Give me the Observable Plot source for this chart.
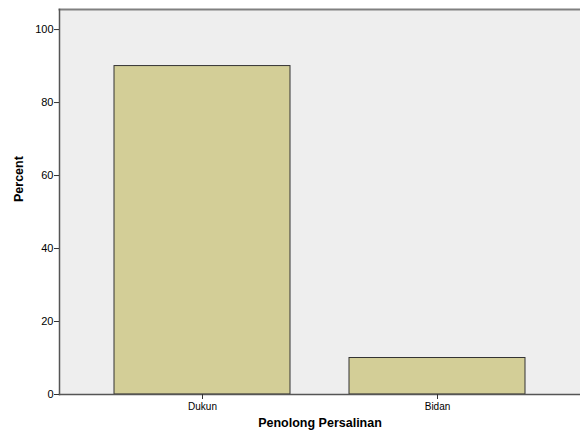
<!DOCTYPE html>
<html><head><meta charset="utf-8">
<script src="https://cdn.jsdelivr.net/npm/d3@7"></script>
<script src="https://cdn.jsdelivr.net/npm/@observablehq/plot@0.6"></script>
<style>body{margin:0;background:#fff;font-family:"Liberation Sans",Arial,sans-serif}</style>
</head><body><div id="chart"></div>
<script>
const categories = ["Dukun", "Bidan"];
const percents = [90, 10];
const yTicks = [0, 20, 40, 60, 80, 100];
const data = categories.map((c, i) => ({cat: c, pct: percents[i]}));

const chart = Plot.plot({
  width: 580, height: 436,
  marginLeft: 59, marginRight: 0, marginTop: 9, marginBottom: 42,
  style: {fontFamily: "Liberation Sans, Arial, sans-serif", fontSize: "11px", color: "#000", background: "#fff"},
  x: {domain: categories, paddingInner: 0.25, paddingOuter: 0.233, label: null},
  y: {domain: [0, 105.5], label: null},
  marks: [
    Plot.frame({fill: "#eeeeee", stroke: null}),
    Plot.barY(data, {x: "cat", y: "pct", fill: "#d3ce97", stroke: "#333", strokeWidth: 1}),
    Plot.frame({anchor: "top", stroke: "#808080", strokeWidth: 2}),
    Plot.frame({anchor: "left", stroke: "#555", strokeWidth: 1.5}),
    Plot.frame({anchor: "bottom", stroke: "#555", strokeWidth: 1.5}),
    Plot.axisY({ticks: yTicks, tickSize: 5, tickPadding: 1, fontSize: 11, stroke: "#333", label: null}),
    Plot.axisX({tickSize: 5, tickPadding: 3, fontSize: 10, stroke: "#333", label: null}),
    Plot.text(["Percent"], {frameAnchor: "left", dx: -41, rotate: -90, fontWeight: "bold", fontSize: 12.5}),
    Plot.text(["Penolong Persalinan"], {frameAnchor: "bottom", dy: 32, fontWeight: "bold", fontSize: 12.5})
  ]
});
document.getElementById("chart").appendChild(chart);
</script>
</body></html>
